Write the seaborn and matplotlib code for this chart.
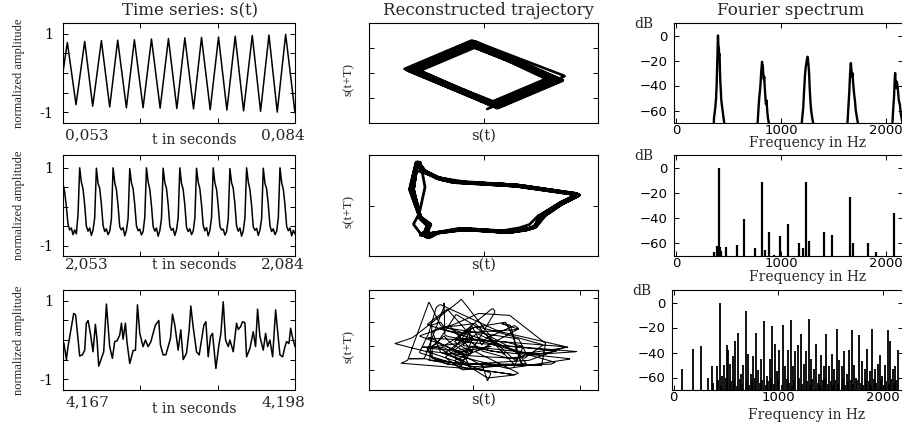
import numpy as np
import pandas as pd
import matplotlib
matplotlib.use("Agg")
import matplotlib.pyplot as plt
import seaborn as sns

# ---------------- data ----------------
win_start = [0.053, 2.053, 4.167]          # s
win_len_ms = 31.0
start_labels = ["0,053", "2,053", "4,167"]
end_labels = ["0,084", "2,084", "4,198"]

# row 1 time series: key points (ms from window start, normalized amplitude)
ts1_t_ms = [0.00, 0.58, 1.74, 2.90, 3.97, 5.13, 6.24, 7.31, 8.47, 9.54, 10.70, 11.82, 12.98,
            14.09, 15.21, 16.28, 17.44, 18.51, 19.67, 20.78, 21.90, 23.01, 24.13, 25.29, 26.40,
            27.52, 28.63, 29.75, 31.00]
ts1_val = [0.03, 0.78, -0.81, 0.81, -0.85, 0.83, -0.87, 0.84, -0.89, 0.85, -0.89, 0.87, -0.90,
           0.88, -0.91, 0.90, -0.92, 0.91, -0.94, 0.92, -0.95, 0.94, -0.97, 0.96, -0.98,
           0.97, -1.00, 0.99, -1.02]

# row 2 time series: uniformly sampled (140 samples over the 31 ms window)
ts2_val = [0.58, 0.38, 0.00, -0.45, -0.60, -0.55, -0.72, -0.60, -0.70, -0.20,
           1.00, 0.63, 0.46, 0.04, -0.50, -0.63, -0.55, -0.74, -0.60, -0.28,
           0.99, 0.60, 0.47, 0.06, -0.48, -0.64, -0.57, -0.72, -0.63, -0.32,
           1.00, 0.62, 0.44, 0.02, -0.52, -0.60, -0.54, -0.75, -0.61, -0.30,
           0.98, 0.61, 0.46, 0.05, -0.49, -0.62, -0.58, -0.73, -0.64, -0.27,
           1.00, 0.64, 0.45, 0.03, -0.51, -0.63, -0.55, -0.76, -0.62, -0.31,
           0.99, 0.62, 0.47, 0.06, -0.50, -0.61, -0.56, -0.74, -0.60, -0.29,
           1.00, 0.60, 0.44, 0.04, -0.53, -0.64, -0.57, -0.72, -0.63, -0.30,
           0.99, 0.63, 0.46, 0.05, -0.48, -0.62, -0.54, -0.75, -0.61, -0.28,
           1.00, 0.61, 0.45, 0.02, -0.51, -0.60, -0.58, -0.73, -0.64, -0.32,
           0.98, 0.62, 0.47, 0.06, -0.50, -0.63, -0.55, -0.76, -0.62, -0.29,
           1.00, 0.64, 0.44, 0.03, -0.52, -0.61, -0.56, -0.74, -0.60, -0.31,
           0.99, 0.60, 0.46, 0.05, -0.49, -0.64, -0.57, -0.72, -0.63, -0.30,
           1.00, 0.62, 0.45, 0.04, -0.51, -0.62, -0.55, -0.75, -0.61, -0.70]

# row 3 time series: key points
ts3_t_ms = [0.00, 0.13, 0.45, 0.67, 1.43, 1.69, 2.23, 2.59, 2.90, 3.12, 3.35, 3.66, 4.01, 4.33,
            4.55, 4.77, 5.13, 5.44, 5.80, 6.24, 6.60, 6.91, 7.23, 7.58, 7.81, 8.03, 8.34, 8.56,
            8.92, 9.37, 9.68, 9.95, 10.26, 10.70, 11.02, 11.37, 11.73, 12.04, 12.35, 12.80,
            13.02, 13.38, 13.74, 14.05, 14.36, 14.63, 14.94, 15.39, 15.74, 16.06, 16.50, 16.86,
            17.08, 17.39, 17.84, 18.20, 18.51, 18.82, 19.09, 19.40, 19.71, 19.98, 20.43, 20.83,
            21.10, 21.41, 21.72, 22.08, 22.30, 22.75, 23.19, 23.42, 23.73, 23.99, 24.31, 24.53,
            24.98, 25.42, 25.73, 26.00, 26.31, 26.76, 27.07, 27.34, 27.65, 28.01, 28.41, 28.77,
            28.99, 29.35, 29.66, 29.88, 30.19, 30.42, 30.64, 31.00]
ts3_val = [-0.05, -0.09, -0.50, -0.17, 0.68, 0.64, -0.41, -0.38, -0.26, 0.43, 0.50, 0.17, -0.30, 0.40,
           0.00, -0.67, -0.47, -0.30, 0.92, -0.17, -0.47, -0.04, -0.02, 0.13, 0.43, 0.02, 0.43, -0.07,
           -0.60, -0.27, -0.26, 0.90, 0.17, -0.17, 0.00, -0.17, -0.05, 0.17, 0.38, 0.50,
           -0.13, -0.38, -0.38, -0.17, 0.04, 0.66, 0.38, -0.26, 0.26, -0.50, -0.34, 0.26,
           0.87, 0.34, -0.30, -0.38, 0.00, 0.38, 0.47, -0.43, 0.09, 0.17, -0.73, -0.13,
           0.17, 0.98, 0.00, -0.17, 0.00, -0.30, 0.43, 0.27, 0.34, 0.47, 0.44, -0.43,
           -0.21, 0.21, -0.17, 0.79, 0.09, -0.26, 0.17, -0.17, 0.00, -0.43, 0.77, 0.04,
           -0.38, -0.43, -0.17, -0.04, -0.09, 0.30, 0.09, -0.17]

delay_ms = [0.65, 0.56, 0.56]   # embedding delay T per row

# Fourier spectra (Hz, dB)
spec1_f = [350, 360, 372, 380, 385, 390, 394, 398, 402, 406, 410, 413, 417, 421, 425, 430, 436, 442, 448, 458, 470,
           760, 778, 790, 798, 805, 810, 815, 819, 823, 826, 830, 835, 840, 845, 850, 856, 862, 868, 875, 888, 900,
           1185, 1200, 1212, 1220, 1228, 1235, 1242, 1248, 1254, 1258, 1263, 1268, 1274, 1280, 1288, 1298, 1312, 1325,
           1620, 1636, 1645, 1652, 1660, 1667, 1672, 1677, 1682, 1688, 1693, 1700, 1706, 1714, 1722, 1738, 1750,
           2050, 2064, 2072, 2080, 2086, 2090, 2095, 2100, 2106, 2112, 2118, 2125, 2135, 2143, 2160]
spec1_db = [-90, -66, -58, -50, -40, -25, -12, 0, -8, -10, -16, -15, -28, -38, -44, -52, -56, -60, -64, -70, -90,
            -90, -68, -52, -45, -38, -30, -25, -21, -28, -24, -30, -35, -33, -42, -48, -55, -52, -60, -66, -72, -90,
            -90, -68, -58, -45, -33, -26, -22, -19, -17, -20, -24, -30, -42, -52, -60, -66, -72, -90,
            -90, -68, -55, -45, -30, -22, -27, -33, -30, -37, -42, -48, -52, -60, -64, -72, -90,
            -90, -70, -58, -48, -35, -30, -38, -42, -37, -40, -45, -52, -55, -62, -70]

spec2_f = [359, 387, 403, 413, 425, 470, 575, 648, 756, 819, 848, 886, 930, 994, 1070, 1175, 1210,
           1241, 1270, 1413, 1489, 1660, 1686, 1829, 1905, 2083]
spec2_db = [-67, -62, 0, -63, -66, -63, -61, -41, -64, -11, -65, -51, -69, -54, -45, -60, -64,
            -11, -58, -51, -53, -23, -60, -60, -67, -36]

spec3_f = [81, 187, 265, 332, 365, 410, 439, 461, 484, 506, 523, 539, 565, 587, 613, 639, 665, 687,
           710, 735, 761, 787, 806, 832, 865, 890, 916, 942, 965, 987, 1006, 1042, 1065, 1090, 1116,
           1139, 1161, 1184, 1216, 1242, 1261, 1290, 1316, 1339, 1361, 1387, 1410, 1435, 1458, 1484,
           1510, 1532, 1558, 1581, 1603, 1626, 1652, 1677, 1703, 1726, 1752, 1774, 1800, 1823, 1848,
           1874, 1897, 1923, 1948, 1968, 1994, 2019, 2042, 2065, 2090, 2113, 2145,
           372, 425, 450, 495, 545, 575, 600, 630, 655, 700, 722, 748, 775, 820, 848, 878, 905, 930,
           955, 1000, 1030, 1078, 1105, 1128, 1150, 1195, 1230, 1270, 1300, 1325, 1375, 1398, 1423,
           1447, 1470, 1498, 1520, 1545, 1570, 1615, 1640, 1665, 1690, 1715, 1740, 1788, 1812, 1836,
           1862, 1885, 1910, 1935, 1980, 2005, 2030, 2055, 2078, 2102, 2125]
spec3_db = [-53, -37, -35, -60, -51, -51, 0, -59, -50, -34, -38, -49, -43, -31, -24, -57, -50, -7,
            -41, -57, -43, -24, -54, -45, -15, -59, -45, -19, -33, -55, -38, -18, -51, -38, -14,
            -51, -39, -34, -25, -49, -39, -13, -45, -53, -33, -57, -42, -51, -25, -51,
            -41, -53, -21, -46, -51, -39, -57, -38, -22, -50, -62, -26, -47, -53, -37,
            -55, -21, -53, -49, -42, -59, -50, -22, -31, -53, -51, -38,
            -64, -62, -66, -60, -63, -62, -67, -61, -65, -63, -66, -62, -60, -64, -62, -66, -63, -60,
            -65, -62, -66, -61, -64, -67, -62, -60, -65, -63, -66, -61, -64, -66, -62,
            -60, -65, -63, -66, -62, -64, -61, -66, -63, -62, -65, -60, -64, -66, -62,
            -63, -66, -61, -64, -62, -66, -63, -65, -61, -64, -62]

# ---------------- figure ----------------
sns.set_theme(style="ticks")
plt.rcParams['font.family'] = ['DejaVu Serif']
plt.rcParams['axes.edgecolor'] = 'black'
plt.rcParams['axes.linewidth'] = 0.8
plt.rcParams['axes.facecolor'] = 'white'

W, H = 902, 424
fig = plt.figure(figsize=(W / 100, H / 100), dpi=100)


def add_ax(left, top, width, height):
    return fig.add_axes([left / W, 1 - (top + height) / H, width / W, height / H])


def style(ax):
    for s in ax.spines.values():
        s.set_color('black')
        s.set_linewidth(0.8)
    ax.tick_params(direction='in', length=3.5, width=0.7, top=True, right=True,
                   colors='black', labelcolor='black')


row_top = [23, 155, 290]
row_h = [100, 101, 100]

ts_t = [np.array(ts1_t_ms), np.linspace(0, win_len_ms, len(ts2_val)), np.array(ts3_t_ms)]
ts_v = [np.array(ts1_val), np.array(ts2_val), np.array(ts3_val)]

ts_ylim = [(-1.28, 1.28), (-1.27, 1.33), (-1.28, 1.28)]
ts_xlab_off = [17, 9, 19]
ts_end_off = [5, 1, 5]

traj_xlim = [(-1.44, 1.40), (-1.18, 1.19), (-0.97, 1.17)]
traj_ylim = [(-1.43, 1.50), (-1.18, 1.16), (-0.92, 1.17)]
traj_lw = [1.9, 2.0, 0.75]
traj_xlab_off = [13, 9, 10]

spec_left = [674, 674, 672]
spec_xlim = [(-22, 2165), (-22, 2165), (-16, 2190)]
spec_xlab_off = [20.5, 21.5, 25]

for r in range(3):
    top, h = row_top[r], row_h[r]

    # ---- time series ----
    ax = add_ax(63, top, 232, h)
    style(ax)
    t_sec = win_start[r] + ts_t[r] / 1000.0
    sns.lineplot(x=t_sec, y=ts_v[r], ax=ax, color='black', lw=1.1,
                 estimator=None, sort=False)
    t0, t1 = win_start[r], win_start[r] + win_len_ms / 1000.0
    ax.set_xlim(t0, t1)
    ax.set_ylim(*ts_ylim[r])
    ax.set_xticks([t0 + (t1 - t0) / 3, t0 + 2 * (t1 - t0) / 3])
    ax.set_xticklabels([])
    ax.set_yticks([-1, -0.5, 0, 0.5, 1])
    ax.set_yticklabels(['-1', '', '', '', '1'], fontsize=10.5)
    ax.tick_params(axis='y', pad=7)
    ax.set_xlabel('t in seconds', fontsize=10)
    ax.xaxis.set_label_coords(0.567, -ts_xlab_off[r] / h)
    ax.xaxis.label.set_va('center')
    ax.set_ylabel('normalized amplitude', family='Liberation Serif', fontsize=9)
    ax.yaxis.set_label_coords(-0.19, 0.5)
    ax.yaxis.label.set_va('center')
    ax.text(2 / 232, -ts_end_off[r] / h, start_labels[r], transform=ax.transAxes,
            ha='left', va='top', fontsize=11)
    ax.text(1 + 10 / 232, -ts_end_off[r] / h, end_labels[r], transform=ax.transAxes,
            ha='right', va='top', fontsize=11)
    if r == 0:
        ax.text(0.547, 1 + 8 / h, 'Time series: s(t)', transform=ax.transAxes,
                ha='center', va='baseline', fontsize=12)

    # ---- reconstructed trajectory (delay embedding) ----
    ax = add_ax(369, top, 229, h)
    style(ax)
    d = delay_ms[r]
    tt = np.linspace(ts_t[r][0], ts_t[r][-1] - d, 3000)
    sx = np.interp(tt, ts_t[r], ts_v[r])
    sy = np.interp(tt + d, ts_t[r], ts_v[r])
    df = pd.DataFrame({'s': sx, 'sT': sy})
    sns.lineplot(data=df, x='s', y='sT', ax=ax, color='black', lw=traj_lw[r],
                 estimator=None, sort=False)
    ax.set_xlim(*traj_xlim[r])
    ax.set_ylim(*traj_ylim[r])
    x0, x1 = traj_xlim[r]
    y0, y1 = traj_ylim[r]
    if r == 0:
        ax.set_xticks([(x0 + x1) / 2])
        ax.set_yticks([y0 + (y1 - y0) * f for f in (0.25, 0.5, 0.75)])
    elif r == 1:
        ax.set_xticks([(x0 + x1) / 2])
        ax.set_yticks([(y0 + y1) / 2])
    else:
        ax.set_xticks([0, 1])
        ax.set_yticks([-0.5, 0, 0.5, 1])
    ax.set_xticklabels([])
    ax.set_yticklabels([])
    ax.set_xlabel('s(t)', fontsize=10.5)
    ax.xaxis.set_label_coords(0.5, -traj_xlab_off[r] / h)
    ax.xaxis.label.set_va('center')
    ax.set_ylabel('s(t+T)', family='Liberation Serif', fontsize=9.5)
    ax.yaxis.set_label_coords(-0.09, 0.44)
    ax.yaxis.label.set_va('center')
    if r == 0:
        ax.text(0.52, 1 + 8 / h, 'Reconstructed trajectory', transform=ax.transAxes,
                ha='center', va='baseline', fontsize=12)

    # ---- Fourier spectrum ----
    ax = add_ax(spec_left[r], top, 903 - spec_left[r], h)
    style(ax)
    if r == 0:
        sns.lineplot(x=spec1_f, y=spec1_db, ax=ax, color='black', lw=1.7,
                     estimator=None, sort=False)
    elif r == 1:
        ax.vlines(spec2_f, -80, spec2_db, color='black', lw=1.6)
    else:
        ax.vlines(spec3_f, -80, spec3_db, color='black', lw=1.3)
    ax.set_xlim(*spec_xlim[r])
    ax.set_ylim(-70, 10)
    ax.set_xticks([0, 1000, 2000])
    ax.set_yticks([-60, -40, -20, 0])
    for lab in ax.get_xticklabels() + ax.get_yticklabels():
        lab.set_family('DejaVu Sans')
        lab.set_fontsize(9.5)
    ax.tick_params(axis='x', pad=1)
    ax.tick_params(axis='y', pad=4.5)
    ax.set_xlabel('Frequency in Hz', fontsize=10)
    ax.xaxis.set_label_coords(0.583, -spec_xlab_off[r] / h)
    ax.xaxis.label.set_va('center')
    ax.set_ylabel('')
    ax.text(-30 / 229, 1 - 1 / h, 'dB', transform=ax.transAxes,
            ha='center', va='center', fontsize=10)
    if r == 0:
        ax.text(0.509, 1 + 8 / h, 'Fourier spectrum', transform=ax.transAxes,
                ha='center', va='baseline', fontsize=12)

fig.savefig('out.png', dpi=100)
